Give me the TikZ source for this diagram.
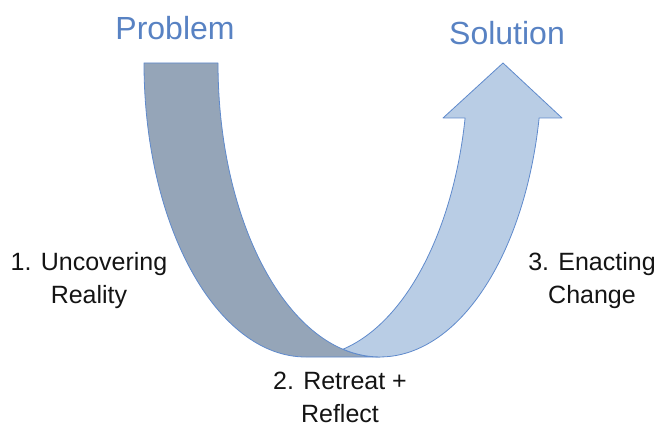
\documentclass[tikz,border=0pt]{standalone}
\usepackage{fontspec}
\setmainfont{Liberation Sans}
\definecolor{darkband}{RGB}{149,165,184}
\definecolor{lightband}{RGB}{185,205,229}
\definecolor{edgeblue}{RGB}{95,138,204}
\definecolor{titleblue}{RGB}{88,130,195}
\definecolor{labelblack}{RGB}{20,20,20}
\tikzset{
  bandedge/.style={draw=edgeblue, line width=0.8pt, line join=round},
  backband/.style={bandedge, fill=darkband},
  frontband/.style={bandedge, fill=lightband},
  titletext/.style={text=titleblue, font=\fontsize{32}{38}\selectfont, anchor=base, inner sep=0pt},
  steptext/.style={text=labelblack, font=\fontsize{25}{33}\selectfont, align=center, anchor=base, inner sep=0pt},
  ell/.style={x radius=162pt, y radius=294pt}
}
\begin{document}
\begin{tikzpicture}[x=1pt,y=1pt]
\useasboundingbox (0,0) rectangle (672,432);
% key points
\coordinate (outerTop) at (144,369);
\coordinate (innerTop) at (218,369);
\coordinate (bottomA) at (306,75);
\coordinate (bottomB) at (380,75);
\coordinate (meet) at (343,82.8);
\coordinate (shaftOut) at (539.1,314);
\coordinate (headR) at (562,314);
\coordinate (headTip) at (503,369);
\coordinate (headL) at (443,314);
\coordinate (shaftIn) at (465.1,314);
% back (dark) band
\path[backband] (outerTop) arc[start angle=180, end angle=270, ell]
  -- (bottomB) arc[start angle=270, end angle=180, ell] -- cycle;
% front (light) arrow
\path[frontband] (meet) arc[start angle=256.8, end angle=349.22, ell]
  -- (headR) -- (headTip) -- (headL) -- (shaftIn)
  arc[start angle=349.22, end angle=283.2, ell] -- cycle;
% texts
\node[titletext] (problem) at (175,392) {Problem};
\node[titletext] (solution) at (507,387) {Solution};
\node[steptext] (step1) at (89,129) {1. Uncovering\\Reality};
\node[steptext] (step3) at (592,129) {3. Enacting\\Change};
\node[steptext] (step2) at (340,10) {2. Retreat +\\Reflect};
\end{tikzpicture}
\end{document}
